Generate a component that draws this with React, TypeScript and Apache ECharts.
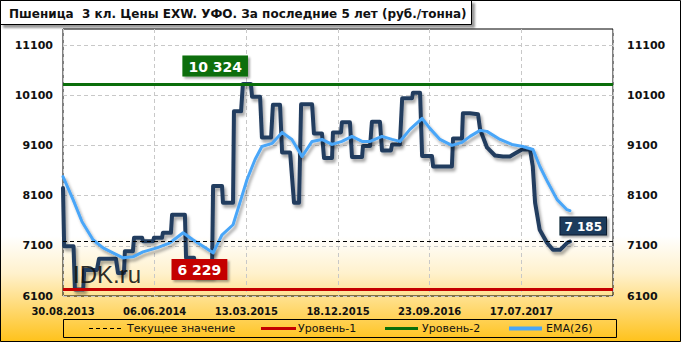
import React, { useEffect, useRef } from 'react';
import * as echarts from 'echarts';

// ---------- data ----------
const titleText = 'Пшеница  3 кл. Цены EXW. УФО. За последние 5 лет (руб./тонна)';
const xLabels = ['30.08.2013', '06.06.2014', '13.03.2015', '18.12.2015', '23.09.2016', '17.07.2017'];
const weeksPerLabel = 40;
const weeksTotal = 240;
const yTicks = [6100, 7100, 8100, 9100, 10100, 11100];

// [week index, price]
const priceSeries: [number, number][] = [
  [0, 8250], [0.5, 7090], [4.6, 7090], [5.2, 6229], [8.8, 6229], [9.3, 6620], [14.8, 6620],
  [15.7, 6840], [23.1, 6840], [24, 6560], [26.6, 6560], [27, 6990], [30.5, 6990], [31, 7260],
  [34.5, 7260], [34.9, 7190], [39.3, 7190], [39.7, 7260], [43.2, 7260], [43.6, 7360], [47.1, 7360],
  [47.6, 7720], [53.2, 7720], [53.7, 6860], [57.2, 6860], [57.6, 6500], [65, 6500], [65.5, 8290],
  [69.4, 8290], [69.8, 7960], [74.2, 7960], [74.6, 9780], [77.7, 9780], [78.5, 10324], [82, 10324],
  [82.5, 10070], [86, 10070], [86.8, 9260], [90.8, 9260], [91.6, 9910], [94.7, 9910], [95.6, 8960],
  [99.1, 8960], [100.8, 7960], [103, 7960], [103.9, 9920], [108.7, 9920], [109.5, 9340], [113, 9340],
  [113.9, 8850], [117.4, 8850], [117.8, 9360], [121.3, 9360], [121.7, 9560], [125.2, 9560],
  [126.1, 8870], [130.5, 8870], [130.9, 9090], [134, 9090], [134.8, 9570], [138.3, 9570],
  [139.2, 9000], [143.1, 9000], [143.6, 9120], [147, 9120], [148, 10040], [152.3, 10040],
  [152.7, 10150], [155.8, 10150], [156.7, 8890], [161, 8890], [161.5, 8680], [169.7, 8680],
  [170.2, 9240], [174.1, 9240], [174.5, 9740], [177.6, 9740], [181.1, 9720], [182, 9420],
  [185, 9060], [188.5, 8900], [192, 8880], [195, 8880], [197.2, 8940], [200.3, 9020], [203.8, 9020],
  [205, 8680], [206, 7960], [208, 7420], [211.2, 7160], [213.8, 7020], [216.9, 7020], [220, 7160],
  [221.2, 7185],
];

const emaSeries: [number, number][] = [
  [0, 8480], [4.4, 8020], [8.3, 7580], [13.1, 7220], [17.5, 7060], [21.8, 6960], [26.2, 6860],
  [30.5, 6880], [34.9, 6980], [41, 7060], [46.7, 7160], [52.4, 7360], [56.7, 7220], [65.5, 6960],
  [69.4, 7320], [74.2, 7520], [77.2, 7960], [80.3, 8420], [83.8, 8820], [86.8, 9080], [91.2, 9140],
  [95.6, 9360], [99.9, 9220], [104.3, 8880], [108.7, 9180], [113, 9220], [117.4, 9120],
  [121.7, 9180], [126.1, 9280], [130.5, 9180], [134, 9180], [139.2, 9280], [143.6, 9220],
  [147, 9180], [151.4, 9420], [156.7, 9640], [160.1, 9440], [164.5, 9220], [169.7, 9100],
  [174.1, 9160], [177.6, 9280], [182, 9400], [185, 9380], [190.7, 9220], [195.9, 9120],
  [200.7, 9080], [205.1, 9020], [208.1, 8680], [211.6, 8360], [215.6, 8020], [219.9, 7820],
  [221.2, 7800],
];

const currentValue = 7185;
const level1Value = 6229; // Уровень-1 (min)
const level1LabelWeek = 57.6;
const level2Value = 10324; // Уровень-2 (max)
const level2LabelWeek = 78.5;

const legendNames = ['Текущее значение', 'Уровень-1', 'Уровень-2', 'EMA(26)'];

// ---------- styles ----------
const FONT = '"DejaVu Sans", sans-serif';
const PRICE_COLOR = '#223c5f';
const EMA_COLOR = '#4aa6f8';
const RED = '#c40000';
const GREEN = '#0a6e0a';

const fmt = (n: number) => String(n).replace(/\B(?=(\d{3})+(?!\d))/g, ' ');

const shadow = {
  shadowColor: 'rgba(0,0,0,0.35)',
  shadowBlur: 3,
  shadowOffsetX: 2,
  shadowOffsetY: 3,
};

export default function App() {
  const ref = useRef<HTMLDivElement>(null);

  useEffect(() => {
    document.body.style.margin = '0';
    const chart = echarts.init(ref.current!, null, { renderer: 'svg' });

    const yAxisCommon = {
      type: 'value',
      min: 6100,
      max: 11420,
      axisLine: { show: false },
      axisTick: { show: false, customValues: yTicks },
      axisLabel: {
        customValues: yTicks,
        formatter: (v: number) => String(v),
        color: '#111',
        fontFamily: FONT,
        fontWeight: 'bold',
        fontSize: 11,
      },
    };

    const legendY = 328.5;
    const legendItems: any[] = [
      { type: 'rect', shape: { x: 63.5, y: 319.5, width: 553, height: 18 }, style: { fill: 'none', stroke: '#000', lineWidth: 1 } },
      { type: 'line', shape: { x1: 89, y1: legendY, x2: 122, y2: legendY }, style: { stroke: '#000', lineWidth: 1, lineDash: [4, 3] } },
      { type: 'text', x: 127, y: legendY, style: { text: legendNames[0], fill: '#111', font: `11px ${FONT}`, textVerticalAlign: 'middle' } },
      { type: 'line', shape: { x1: 261, y1: legendY, x2: 296, y2: legendY }, style: { stroke: RED, lineWidth: 3 } },
      { type: 'text', x: 298, y: legendY, style: { text: legendNames[1], fill: '#111', font: `11px ${FONT}`, textVerticalAlign: 'middle' } },
      { type: 'line', shape: { x1: 385, y1: legendY, x2: 418, y2: legendY }, style: { stroke: GREEN, lineWidth: 3 } },
      { type: 'text', x: 422, y: legendY, style: { text: legendNames[2], fill: '#111', font: `11px ${FONT}`, textVerticalAlign: 'middle' } },
      { type: 'line', shape: { x1: 509, y1: legendY, x2: 542, y2: legendY }, style: { stroke: EMA_COLOR, lineWidth: 4 } },
      { type: 'text', x: 546, y: legendY, style: { text: legendNames[3], fill: '#111', font: `11px ${FONT}`, textVerticalAlign: 'middle' } },
    ];

    const levelLabel = (value: number, color: string, pos: number[]) => ({
      show: true,
      position: pos,
      formatter: () => fmt(value),
      color: '#fff', fontFamily: FONT, fontWeight: 'bold', fontSize: 14,
      backgroundColor: color, padding: [4, 6, 3, 6],
      shadowColor: 'rgba(0,0,0,0.35)', shadowBlur: 2, shadowOffsetX: 2, shadowOffsetY: 2,
    });

    const option: any = {
      animation: false,
      backgroundColor: {
        type: 'linear', x: 0, y: 0, x2: 0, y2: 1,
        colorStops: [
          { offset: 0, color: '#ffffff' },
          { offset: 0.69, color: '#ffffff' },
          { offset: 0.8, color: '#fff1cc' },
          { offset: 1, color: '#ffc21a' },
        ],
      },
      grid: {
        left: 63, right: 68, top: 29, bottom: 46,
        show: true, borderColor: '#000', borderWidth: 1, backgroundColor: 'transparent',
      },
      xAxis: {
        type: 'value',
        min: 0,
        max: weeksTotal,
        interval: weeksPerLabel,
        axisLine: { show: false },
        axisTick: { show: false },
        splitLine: { show: true, lineStyle: { color: '#c8c8c8', type: [4, 3], width: 1 } },
        axisLabel: {
          margin: 10,
          color: '#111',
          fontFamily: FONT,
          fontWeight: 'bold',
          fontSize: 10,
          showMaxLabel: false,
          formatter: (v: number) => xLabels[Math.round(v / weeksPerLabel)] ?? '',
        },
      },
      yAxis: [
        {
          ...yAxisCommon,
          position: 'left',
          splitLine: { show: true, lineStyle: { color: '#c8c8c8', type: [4, 3], width: 1 } },
          axisLabel: { ...yAxisCommon.axisLabel, margin: 10 },
        },
        {
          ...yAxisCommon,
          position: 'right',
          splitLine: { show: false },
          axisLabel: { ...yAxisCommon.axisLabel, margin: 14 },
        },
      ],
      series: [
        {
          name: 'Цена',
          type: 'line',
          data: priceSeries,
          showSymbol: false,
          symbol: 'none',
          z: 2,
          lineStyle: { color: PRICE_COLOR, width: 4, cap: 'round', join: 'round', ...shadow },
          markLine: {
            silent: true,
            symbol: 'none',
            label: { show: false },
            data: [
              { yAxis: level1Value, lineStyle: { color: RED, width: 3, type: 'solid' } },
              { yAxis: level2Value, lineStyle: { color: GREEN, width: 3, type: 'solid' } },
            ],
          },
        },
        {
          name: legendNames[3],
          type: 'line',
          data: emaSeries,
          showSymbol: false,
          symbol: 'none',
          z: 3,
          lineStyle: { color: EMA_COLOR, width: 3, cap: 'round', join: 'round', ...shadow },
          markLine: {
            silent: true,
            symbol: 'none',
            data: [{ yAxis: currentValue }],
            lineStyle: { color: '#000', width: 1, type: [4, 3] },
            label: {
              show: true,
              position: 'insideEndTop',
              distance: 7,
              formatter: () => fmt(currentValue),
              color: '#fff',
              fontFamily: FONT,
              fontWeight: 'bold',
              fontSize: 12,
              backgroundColor: '#1e3a5c',
              borderColor: '#0b1a2e',
              borderWidth: 1,
              padding: [3, 4, 2, 4],
              shadowColor: 'rgba(0,0,0,0.35)',
              shadowBlur: 2,
              shadowOffsetX: 2,
              shadowOffsetY: 2,
            },
          },
        },
        {
          name: 'levelLabels',
          type: 'line',
          data: [],
          z: 5,
          markPoint: {
            silent: true,
            symbol: 'circle',
            symbolSize: 1,
            itemStyle: { color: 'rgba(0,0,0,0)' },
            data: [
              { coord: [level2LabelWeek, level2Value], label: levelLabel(level2Value, GREEN, [-60, -28]) },
              { coord: [level1LabelWeek, level1Value], label: levelLabel(level1Value, RED, [-23, -30]) },
            ],
          },
        },
      ],
      graphic: [
        {
          type: 'rect', z: 100,
          shape: { x: 0.5, y: 0.5, width: 680, height: 341 },
          style: { fill: 'none', stroke: '#000', lineWidth: 1 },
        },
        {
          type: 'group', z: 101,
          children: [
            {
              type: 'rect',
              shape: { x: 0.5, y: 0.5, width: 471, height: 24 },
              style: { fill: '#fff', stroke: '#000', lineWidth: 1, shadowColor: 'rgba(0,0,0,0.4)', shadowBlur: 2, shadowOffsetX: 3, shadowOffsetY: 3 },
            },
            {
              type: 'text', x: 9, y: 14,
              style: { text: titleText, fill: '#111', font: `bold 12px ${FONT}`, textVerticalAlign: 'middle' },
            },
          ],
        },
        {
          type: 'text', z: 50, x: 73, y: 274,
          style: { text: 'IDK.ru', fill: '#111', font: `24px "Liberation Sans", sans-serif`, textVerticalAlign: 'middle', opacity: 0.9 },
        },
        { type: 'group', z: 60, children: legendItems },
      ],
    };

    chart.setOption(option);
    return () => chart.dispose();
  }, []);

  return <div ref={ref} style={{ width: 681, height: 342 }} />;
}
